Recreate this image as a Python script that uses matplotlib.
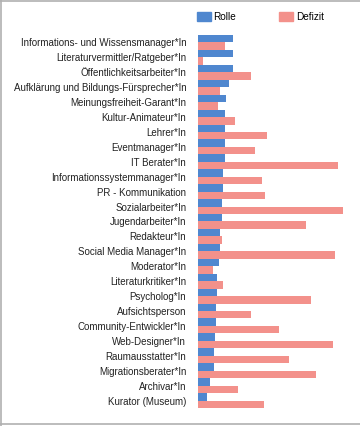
import matplotlib
matplotlib.use("Agg")
import matplotlib.pyplot as plt
import numpy as np
from matplotlib.lines import Line2D
from matplotlib.patches import Patch

CATEGORIES = [
    "Informations- und Wissensmanager*In",
    "Literaturvermittler/Ratgeber*In",
    "Öffentlichkeitsarbeiter*In",
    "Aufklärung und Bildungs-Fürsprecher*In",
    "Meinungsfreiheit-Garant*In",
    "Kultur-Animateur*In",
    "Lehrer*In",
    "Eventmanager*In",
    "IT Berater*In",
    "Informationssystemmanager*In",
    "PR - Kommunikation",
    "Sozialarbeiter*In",
    "Jugendarbeiter*In",
    "Redakteur*In",
    "Social Media Manager*In",
    "Moderator*In",
    "Literaturkritiker*In",
    "Psycholog*In",
    "Aufsichtsperson",
    "Community-Entwickler*In",
    "Web-Designer*In",
    "Raumausstatter*In",
    "Migrationsberater*In",
    "Archivar*In",
    "Kurator (Museum)",
]
ROLLE = [35, 35, 35, 31, 28, 27, 27, 27, 27, 25, 25, 24, 24, 22, 22, 21, 19, 19,
         18, 18, 17, 16, 16, 12, 9]
DEFIZIT = [27, 5, 53, 22, 20, 37, 69, 57, 140, 64, 67, 145, 108, 24, 137, 15, 25,
           113, 53, 81, 135, 91, 118, 40, 66]

BLUE = "#4f87cf"
SALMON = "#f3918b"

plt.rcParams["font.family"] = ["Liberation Sans", "DejaVu Sans"]

fig = plt.figure(figsize=(3.6, 4.26), dpi=100)
ax = fig.add_axes([198 / 360, 1 - 408 / 426, 150 / 360, 373 / 426])

n = len(CATEGORIES)
y = np.arange(n)
h = 0.5
ax.barh(y - h / 2, ROLLE, height=h, color=BLUE)
ax.barh(y + h / 2, DEFIZIT, height=h, color=SALMON)

ax.set_ylim(n - 0.5, -0.5)
ax.set_xlim(0, 150)
ax.set_yticks(y)
ax.set_yticklabels(CATEGORIES, fontsize=7.0, color="#222222")
ax.tick_params(axis="y", length=0, pad=8.5)
ax.set_xticks([])
for s in ax.spines.values():
    s.set_visible(False)

handles = [Patch(color=BLUE, label="Rolle"), Patch(color=SALMON, label="Defizit")]
fig.legend(handles=handles, loc="center left", bbox_to_anchor=(190 / 360, 1 - 17 / 426),
           ncol=2, frameon=False, fontsize=7.2, handlelength=1.35, handleheight=0.95,
           handletextpad=0.3, columnspacing=4.3, borderpad=0.2)

# thin gray frame around the picture
for xs, ys in [([0, 1], [0.998, 0.998]), ([0.002, 0.002], [0, 1]), ([0, 1], [0.004, 0.004])]:
    fig.add_artist(Line2D(xs, ys, transform=fig.transFigure, color="#b0b0b0", lw=1.2))

fig.savefig("out.png", dpi=100)
